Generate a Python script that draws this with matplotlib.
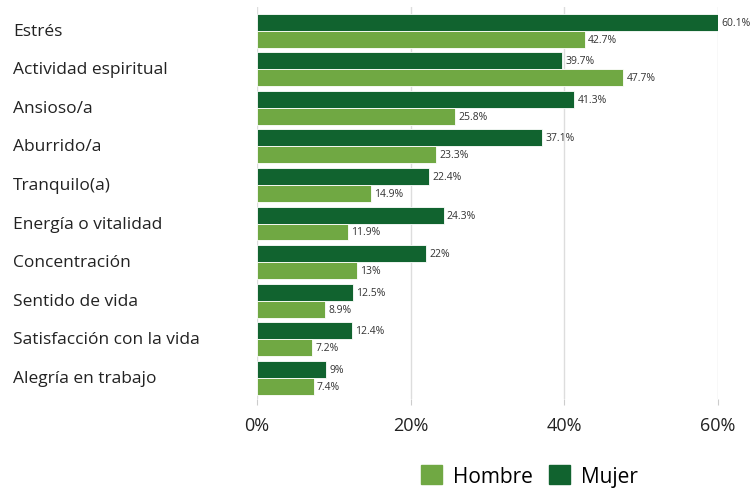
import numpy as np
import matplotlib.pyplot as plt
import matplotlib.transforms as mtransforms
from matplotlib.patches import Patch

plt.rcParams['font.family'] = ['Open Sans', 'DejaVu Sans']

# Datos
categorias = ['Estrés', 'Actividad espiritual', 'Ansioso/a', 'Aburrido/a',
              'Tranquilo(a)', 'Energía o vitalidad', 'Concentración',
              'Sentido de vida', 'Satisfacción con la vida', 'Alegría en trabajo']
mujer = [60.1, 39.7, 41.3, 37.1, 22.4, 24.3, 22, 12.5, 12.4, 9]
hombre = [42.7, 47.7, 25.8, 23.3, 14.9, 11.9, 13, 8.9, 7.2, 7.4]
ticks = [0, 20, 40, 60]

c_mujer = '#11632f'
c_hombre = '#70a843'

fig = plt.figure(figsize=(7.51, 4.89), dpi=100)
ax = fig.add_axes([0.342, 0.182, 0.614, 0.8016])

y = np.arange(len(categorias))
h = 0.44
ax.barh(y - h / 2, mujer, height=h, color=c_mujer, edgecolor='white', linewidth=0.6, zorder=3)
ax.barh(y + h / 2, hombre, height=h, color=c_hombre, edgecolor='white', linewidth=0.6, zorder=3)

def fmt(v):
    return f"{v:g}%"

for yi, v in zip(y, mujer):
    ax.text(v + 0.4, yi - h / 2, fmt(v), va='center', ha='left', fontsize=7.5,
            color='#333333', clip_on=False)
for yi, v in zip(y, hombre):
    ax.text(v + 0.4, yi + h / 2, fmt(v), va='center', ha='left', fontsize=7.5,
            color='#333333', clip_on=False)

ax.set_xlim(0, 60)
ax.set_ylim(len(categorias) - 1 + 0.547, -0.609)
ax.set_xticks(ticks)
ax.set_xticklabels([f"{t}%" for t in ticks], fontsize=13, color='#222222')
ax.tick_params(axis='x', length=4, color='#cccccc', pad=8)
ax.set_yticks([])
for t in ticks:
    ax.axvline(t, color='#dddddd', linewidth=1, zorder=1)
for s in ax.spines.values():
    s.set_visible(False)

# etiquetas de categorías alineadas a la izquierda
trans = mtransforms.blended_transform_factory(fig.transFigure, ax.transData)
for yi, cat in zip(y, categorias):
    ax.text(0.017, yi, cat, transform=trans, fontsize=12.5,
            color='#222222', va='center', ha='left')

handles = [Patch(color=c_hombre, label='Hombre'), Patch(color=c_mujer, label='Mujer')]
fig.legend(handles=handles, loc='center', bbox_to_anchor=(0.705, 0.025), ncol=2,
           frameon=False, fontsize=15, handlelength=1.0, handleheight=1.0,
           columnspacing=0.8, handletextpad=0.5)

fig.savefig('out.png', dpi=100)
